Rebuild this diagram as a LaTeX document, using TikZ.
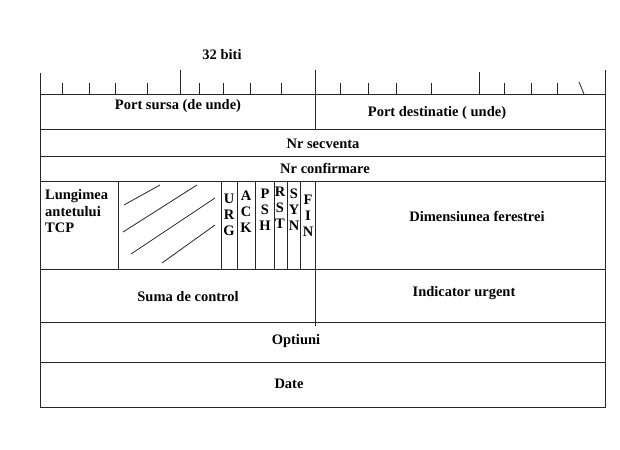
\documentclass[tikz,border=0pt]{standalone}
\usepackage{fontspec}
\setmainfont{Liberation Serif}
\begin{document}
\begin{tikzpicture}[x=1pt,y=-1pt,
  lbl/.style={font=\fontsize{14.5}{16}\selectfont\bfseries,inner sep=0pt},
  flag/.style={lbl,align=center,font=\fontsize{14.5}{16}\selectfont\bfseries},
  rule/.style={line width=0.9pt,black!85},
  tick/.style={line width=0.8pt,black!85}]
\useasboundingbox (0,0) rectangle (620,449);
\fill[white] (0,0) rectangle (620,449);
% outer frame and ruler
\draw[rule] (40,73) -- (40,407) -- (605,407) -- (605,70);
\draw[rule] (40,94) -- (605,94);
\draw[rule] (315,70) -- (315,129);
\draw[tick] (180,70) -- (180,94);
\draw[tick] (479,72) -- (479,94);
\foreach \x in {62,89,115,147,199,223,250,281,340,368,396,431,504,531,557}
  \draw[tick] (\x,83) -- (\x,94);
\draw[tick] (579,82) -- (584,94);
% row separators
\foreach \y in {129,156,181,269,322,362}
  \draw[rule] (40,\y) -- (605,\y);
% flags row
\foreach \x in {118,221,237,255,274,287,300}
  \draw[rule] (\x,181) -- (\x,269);
\draw[rule] (315,181) -- (315,326);
% hatching
\draw[tick] (124,205) -- (160,185);
\draw[tick] (123,232) -- (197,185);
\draw[tick] (131,254) -- (215,198);
\draw[tick] (162,263) -- (215,225);
% labels
\node[lbl] (bits) at (222,55) {32 biti};
\node[lbl] (psrc) at (178,106) {Port sursa (de unde)};
\node[lbl] (pdst) at (437,113) {Port destinatie ( unde)};
\node[lbl] (seq) at (323,144) {Nr secventa};
\node[lbl] (ack) at (325,168) {Nr confirmare};
\node[lbl,align=left,anchor=north west,font=\fontsize{14.5}{16.8}\selectfont\bfseries] (hlen) at (45,189) {Lungimea\\antetului\\TCP};
\node[flag] (urg) at (229,215) {U\\R\\G};
\node[flag] (fack) at (246,212) {A\\C\\K};
\node[flag] (psh) at (265,210) {P\\S\\H};
\node[flag] (rst) at (280,208) {R\\S\\T};
\node[flag] (syn) at (294,210) {S\\Y\\N};
\node[flag] (fin) at (308,216) {F\\I\\N};
\node[lbl] (win) at (477,216) {Dimensiunea ferestrei};
\node[lbl] (sum) at (188,297) {Suma de control};
\node[lbl] (urgp) at (464,293) {Indicator urgent};
\node[lbl] (opt) at (296,341) {Optiuni};
\node[lbl] (data) at (289,384) {Date};
\end{tikzpicture}
\end{document}
